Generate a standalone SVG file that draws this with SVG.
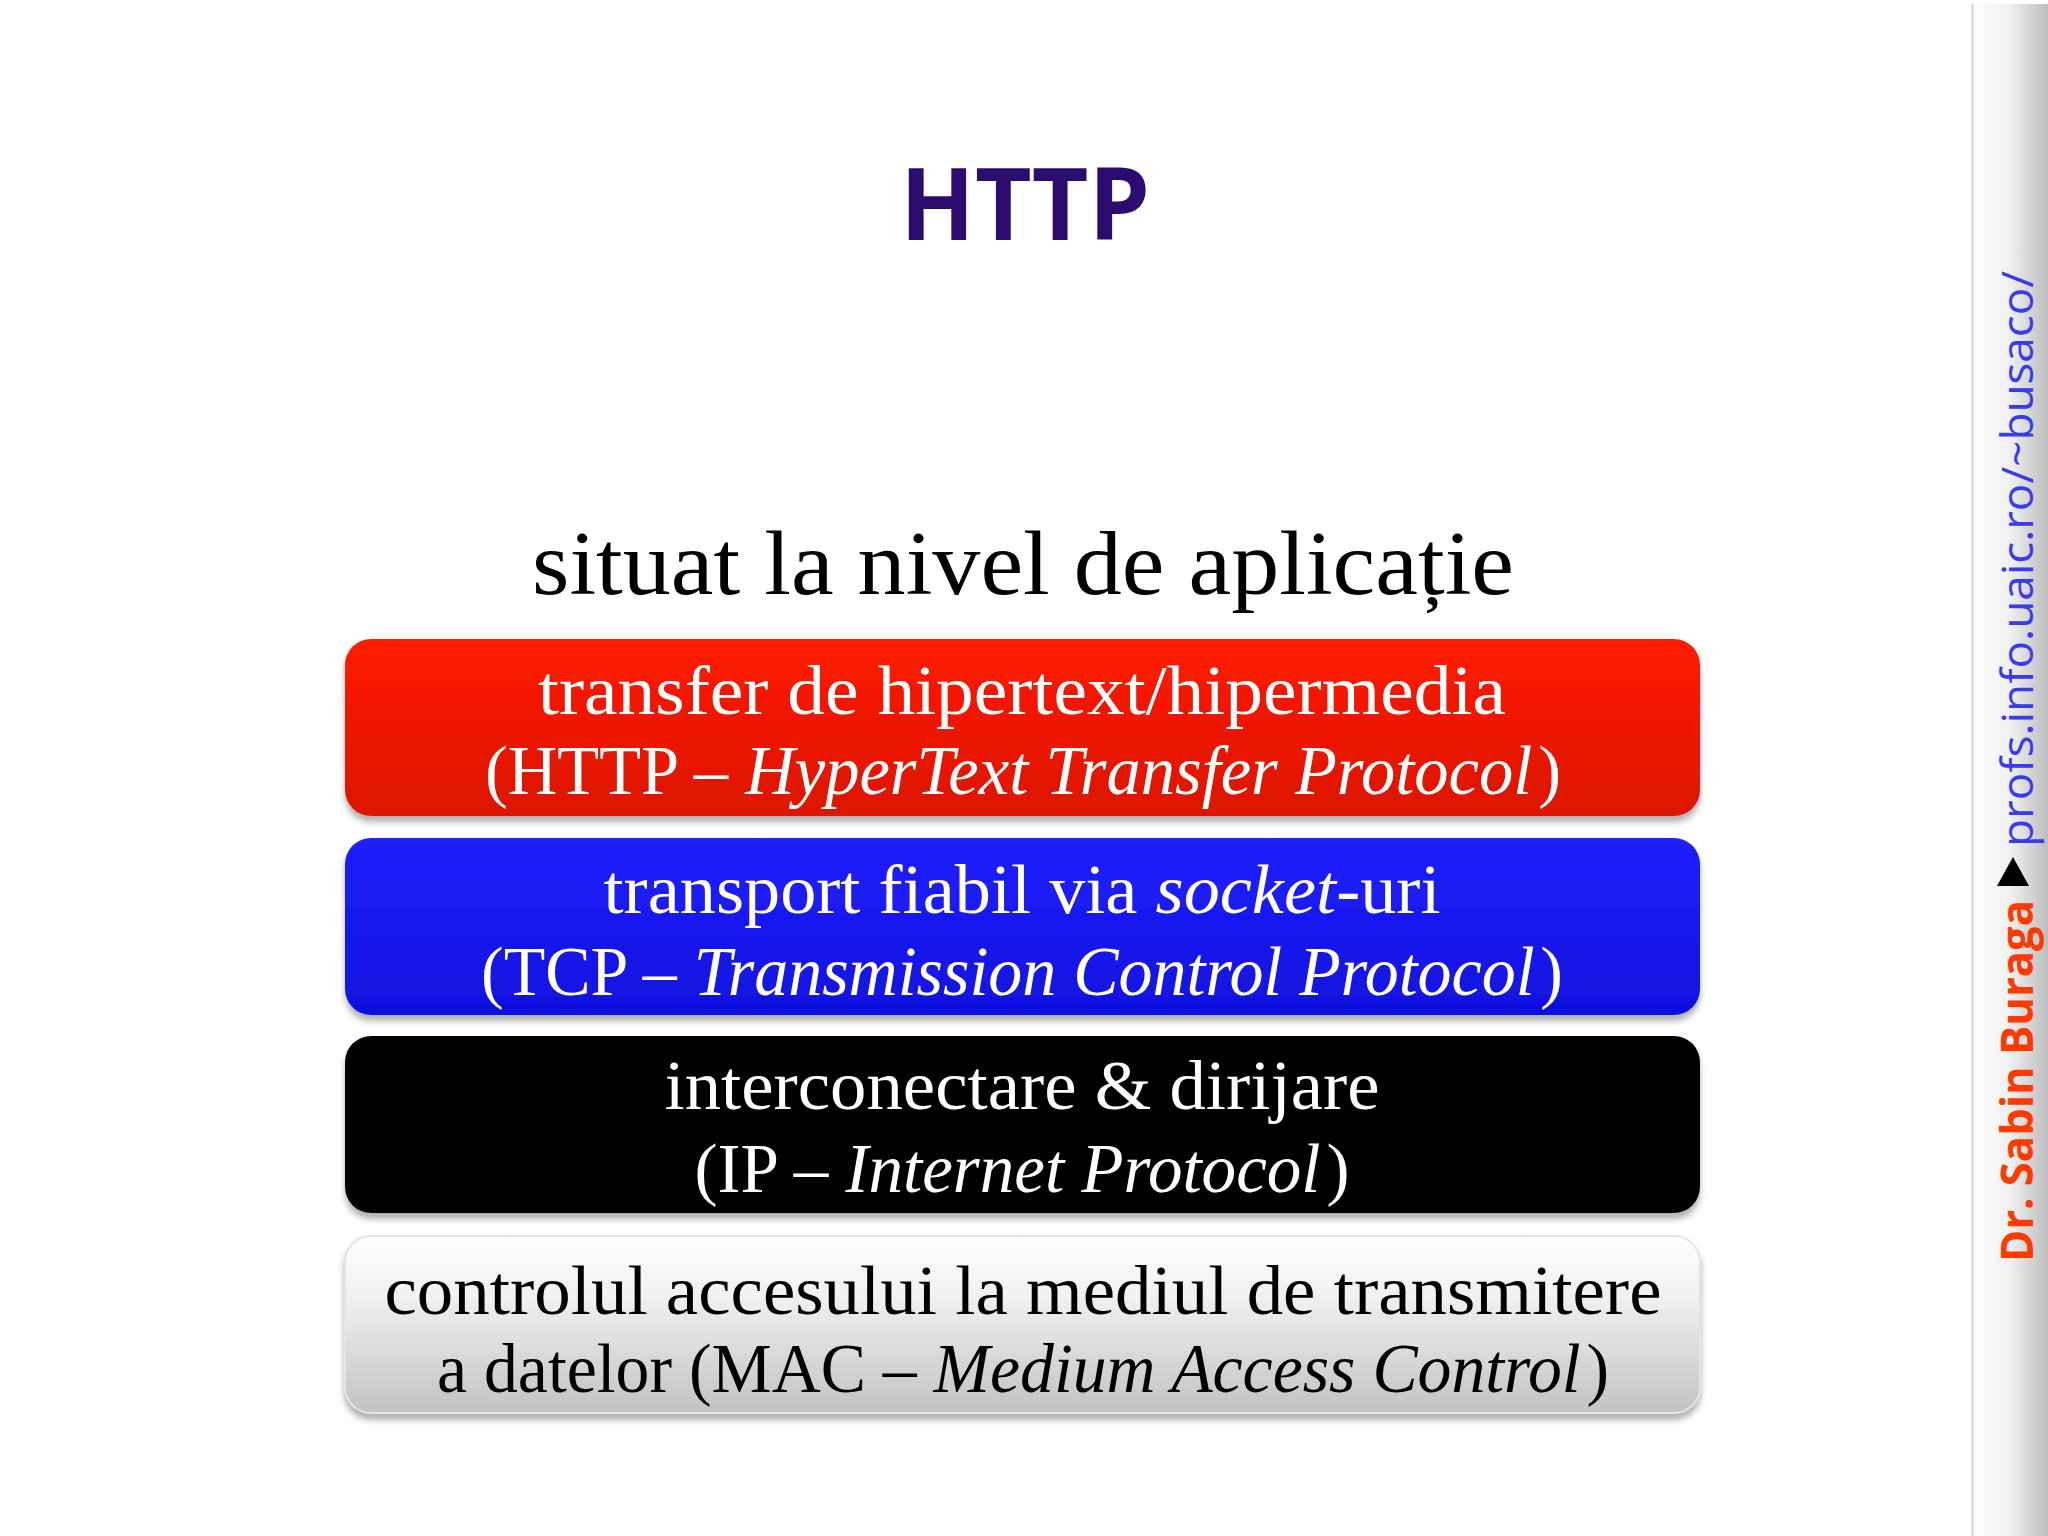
<svg xmlns="http://www.w3.org/2000/svg" width="2048" height="1536" viewBox="0 0 2048 1536">
<defs>
<linearGradient id="gRed" x1="0" y1="0" x2="0" y2="1"><stop offset="0" stop-color="#FF1C00"/><stop offset="1" stop-color="#DC1200"/></linearGradient>
<linearGradient id="gBlue" x1="0" y1="0" x2="0" y2="1"><stop offset="0" stop-color="#2020FF"/><stop offset="1" stop-color="#1010DE"/></linearGradient>
<linearGradient id="gBlack" x1="0" y1="0" x2="0" y2="1"><stop offset="0" stop-color="#050505"/><stop offset="1" stop-color="#000000"/></linearGradient>
<linearGradient id="gGray" x1="0" y1="0" x2="0" y2="1"><stop offset="0" stop-color="#FFFFFF"/><stop offset="0.35" stop-color="#F0F0F0"/><stop offset="1" stop-color="#C2C2C2"/></linearGradient>
<linearGradient id="gSide" x1="0" y1="0" x2="1" y2="0"><stop offset="0" stop-color="#FFFFFF"/><stop offset="0.5" stop-color="#F0F0F0"/><stop offset="1" stop-color="#BDBDBD"/></linearGradient>
<filter id="shadow" x="-5%" y="-10%" width="110%" height="130%"><feDropShadow dx="0" dy="6" stdDeviation="3" flood-color="#707070" flood-opacity="0.55"/></filter>
<style>
.box{filter:url(#shadow)}
.bt{font-family:"Liberation Serif",serif;font-size:70px;text-anchor:middle}
.w{fill:#FFFFFF}
.k{fill:#000000}
.i{font-style:italic}
</style>
</defs>
<rect width="2048" height="1536" fill="#FFFFFF"/>
<g id="sidebar">
<rect x="1972" y="4" width="76" height="1532" fill="url(#gSide)"/>
<line x1="1972.5" y1="4" x2="1972.5" y2="1536" stroke="#D4D4D4" stroke-width="2"/>
<text transform="translate(2033,847) rotate(-90)" font-family="'Open Sans','Noto Sans',sans-serif" font-size="44" fill="#3A3AF0" textLength="576" lengthAdjust="spacingAndGlyphs">profs.info.uaic.ro/~busaco/</text>
<polygon points="2013,857 1997,886 2029,886" fill="#000000"/>
<text transform="translate(2033,1262) rotate(-90)" font-family="'Open Sans','Noto Sans',sans-serif" font-weight="bold" font-size="44" fill="#FF3A00" textLength="362" lengthAdjust="spacingAndGlyphs">Dr. Sabin Buraga</text>
</g>
<g id="title">
<text x="1025" y="240" font-family="'Open Sans','Noto Sans',sans-serif" font-weight="bold" font-size="101" fill="#2B0C6E" text-anchor="middle" textLength="250" lengthAdjust="spacingAndGlyphs">HTTP</text>
</g>
<g id="subtitle">
<text x="1023" y="594" font-family="'Liberation Serif',serif" font-size="90" fill="#000000" text-anchor="middle" textLength="982" lengthAdjust="spacingAndGlyphs">situat la nivel de aplicație</text>
</g>
<g id="layer-http">
<rect class="box" x="345" y="639" width="1355" height="177" rx="26" fill="url(#gRed)"/>
<text class="bt w" x="1022" y="714" textLength="968" lengthAdjust="spacingAndGlyphs">transfer de hipertext/hipermedia</text>
<text class="bt w" x="1023" y="794" textLength="1076" lengthAdjust="spacingAndGlyphs">(HTTP – <tspan class="i">HyperText Transfer Protocol</tspan><tspan dx="6">)</tspan></text>
</g>
<g id="layer-tcp">
<rect class="box" x="345" y="838" width="1355" height="177" rx="26" fill="url(#gBlue)"/>
<text class="bt w" x="1022" y="913" textLength="837" lengthAdjust="spacingAndGlyphs">transport fiabil via <tspan class="i">socket</tspan>-uri</text>
<text class="bt w" x="1022" y="995" textLength="1082" lengthAdjust="spacingAndGlyphs">(TCP – <tspan class="i">Transmission Control Protocol</tspan><tspan dx="6">)</tspan></text>
</g>
<g id="layer-ip">
<rect class="box" x="345" y="1036" width="1355" height="177" rx="26" fill="url(#gBlack)"/>
<text class="bt w" x="1022" y="1109" textLength="715" lengthAdjust="spacingAndGlyphs">interconectare &amp; dirijare</text>
<text class="bt w" x="1022" y="1192" textLength="655" lengthAdjust="spacingAndGlyphs">(IP – <tspan class="i">Internet Protocol</tspan><tspan dx="6">)</tspan></text>
</g>
<g id="layer-mac">
<rect class="box" x="345" y="1236" width="1355" height="177" rx="26" fill="url(#gGray)" stroke="#E4E4E4" stroke-width="2"/>
<text class="bt k" x="1023" y="1314" textLength="1277" lengthAdjust="spacingAndGlyphs">controlul accesului la mediul de transmitere</text>
<text class="bt k" x="1023" y="1392" textLength="1172" lengthAdjust="spacingAndGlyphs">a datelor (MAC – <tspan class="i">Medium Access Control</tspan><tspan dx="6">)</tspan></text>
</g>
<g id="connectors"></g>
</svg>
